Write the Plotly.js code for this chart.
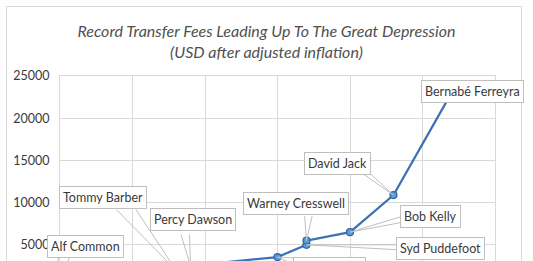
<!DOCTYPE html>
<html>
<head>
<meta charset="utf-8">
<script src="https://cdn.plot.ly/plotly-3.0.1.min.js"></script>
<style>
  html, body { margin: 0; padding: 0; background: #ffffff; overflow: hidden; width: 533px; height: 261px; }
  #frame { position: absolute; left: 6px; top: 6px; width: 516px; height: 400px; border: 1px solid #d9d9d9; box-sizing: border-box; }
  #chart { position: absolute; left: 0; top: 0; width: 533px; height: 327px; }
</style>
</head>
<body>
<div id="frame"></div>
<div id="chart"></div>
<script>
const players = ['Alf Common', 'Tommy Barber', 'Percy Dawson', 'Danny Shea', 'Syd Puddefoot', 'Warney Cresswell', 'Bob Kelly', 'David Jack', 'Bernabé Ferreyra'];
const years = [1905, 1913, 1914, 1920, 1922, 1922, 1925, 1928, 1932];
const fees = [1000, 2000, 2500, 3550, 5000, 5500, 6500, 10890, 23000];
const yTicks = [0, 5000, 10000, 15000, 20000, 25000];

// callout box centre offsets (pixels) from each point
const labelDX = [25, -73, 2, 52, 134, -11, 80, -56, 21];
const labelDY = [-32, -73, -46, 11, 4, -37, -16, -32, -1];
// the two wedge-leader roots on each box edge (pixels from the point)
const wedgeA = [[-2, -22], [-61, -62], [-10, -33], [18, 1], [92, 0], [-2, -26], [53, -16], [-33, -23], [10, -8]];
const wedgeB = [[10, -22], [-41, -62], [-1, -33], [18, 8], [92, 5], [6, -26], [53, -10], [-25, -23], [16, -8]];

const font = 'Lato, "Open Sans", sans-serif';

const trace = {
  x: years, y: fees, type: 'scatter', mode: 'lines+markers',
  line: { color: '#3d72b4', width: 2.25 },
  marker: { size: 7, color: '#5b9bd5', line: { color: '#2f65a8', width: 1.2 } },
  hoverinfo: 'skip'
};

const leaders = [];
players.forEach((p, i) => {
  [wedgeA[i], wedgeB[i]].forEach(w => {
    leaders.push({
      x: years[i], y: fees[i], xref: 'x', yref: 'y', text: '',
      showarrow: true, arrowhead: 0, arrowwidth: 1, arrowcolor: '#bfbfbf',
      ax: w[0], ay: w[1], standoff: 0
    });
  });
});

const boxes = players.map((p, i) => ({
  x: years[i], y: fees[i], xref: 'x', yref: 'y',
  text: p, showarrow: false, xshift: labelDX[i], yshift: -labelDY[i],
  xanchor: 'center', yanchor: 'middle',
  bgcolor: '#ffffff', bordercolor: '#bfbfbf', borderwidth: 1, borderpad: 3,
  font: { family: font, size: 12.5, color: '#3a3a3a' }
}));

const layout = {
  width: 533, height: 327,
  margin: { l: 60, r: 38, t: 76, b: 40 },
  paper_bgcolor: 'rgba(0,0,0,0)', plot_bgcolor: 'rgba(0,0,0,0)',
  showlegend: false,
  title: {
    text: 'Record Transfer Fees Leading Up To The Great Depression<br>(USD after adjusted inflation)',
    x: 0.5, xref: 'container', xanchor: 'center',
    y: 1 - 37 / 327, yref: 'container', yanchor: 'middle',
    font: { family: font, size: 16, color: '#505050', style: 'italic' }
  },
  xaxis: {
    range: [1905, 1935], dtick: 5, tick0: 1905,
    showgrid: true, gridcolor: '#d9d9d9', gridwidth: 1, zeroline: false,
    showline: true, mirror: true, linecolor: '#d9d9d9', linewidth: 1,
    ticks: '', tickfont: { family: font, size: 12, color: '#595959' }
  },
  yaxis: {
    range: [0, 25000], tickvals: yTicks, ticktext: yTicks.map(String),
    showgrid: true, gridcolor: '#d9d9d9', gridwidth: 1, zeroline: false,
    showline: true, mirror: true, linecolor: '#d9d9d9', linewidth: 1,
    ticks: '', ticklabelstandoff: 7,
    tickfont: { family: font, size: 12.5, color: '#3a3a3a' }
  },
  annotations: leaders.concat(boxes)
};

Plotly.newPlot('chart', [trace], layout, { staticPlot: true, displayModeBar: false });
</script>
</body>
</html>
